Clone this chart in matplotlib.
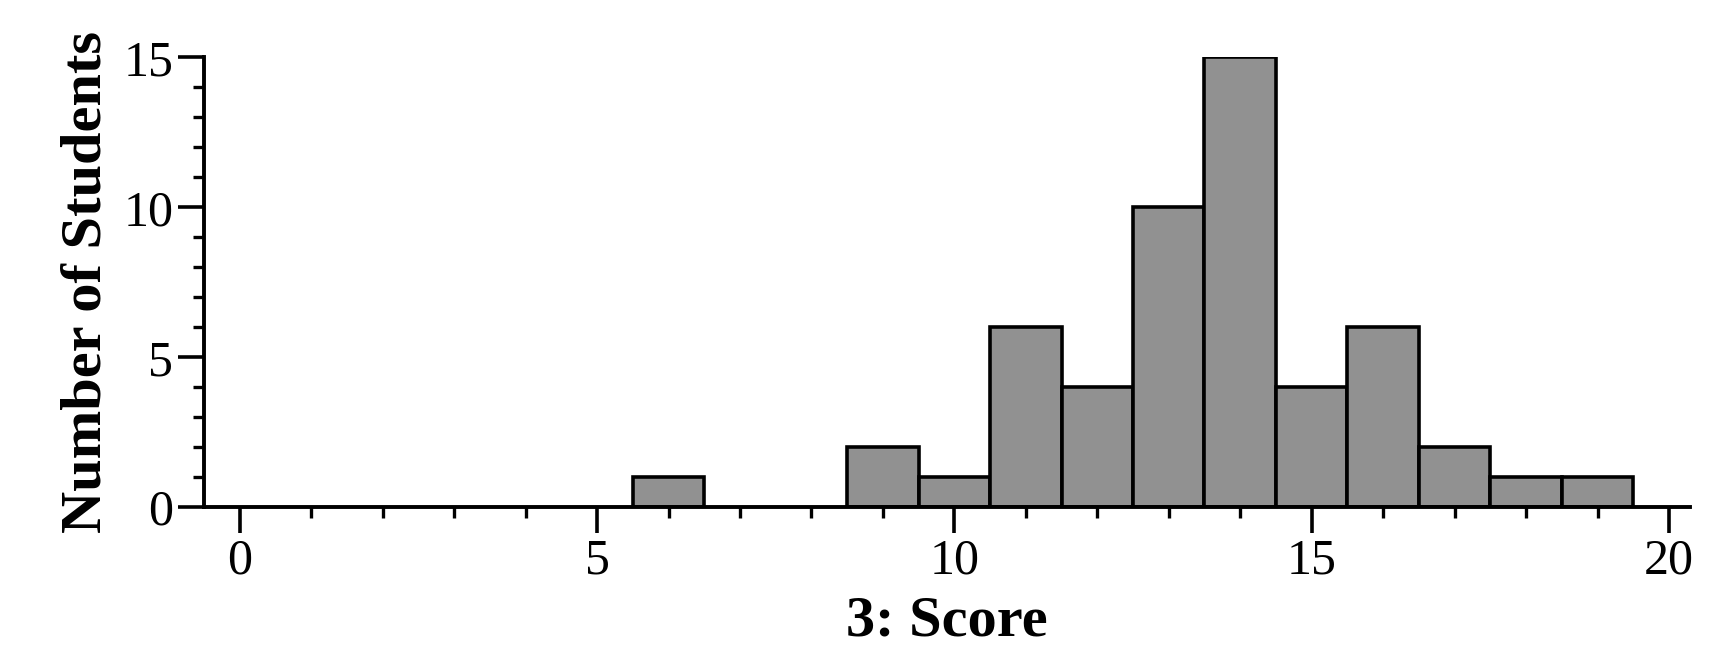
import matplotlib
matplotlib.use("Agg")
import matplotlib.pyplot as plt
from matplotlib.ticker import MultipleLocator

scores = [6, 9, 10, 11, 12, 13, 14, 15, 16, 17, 18, 19]
counts = [1, 2, 1, 6, 4, 10, 15, 4, 6, 2, 1, 1]

x_label = "3: Score"
y_label = "Number of Students"

plt.rcParams["font.family"] = ["Liberation Serif", "DejaVu Serif"]

fig = plt.figure(figsize=(17.32, 6.57), dpi=100)
ax = fig.add_axes([0.1178, 0.228, 0.976 - 0.1178, 0.9125 - 0.228])

ax.bar(scores, counts, width=1.0, color="#919191", edgecolor="black", linewidth=2.6, zorder=3)

ax.set_xlim(-0.5, 20.3)
ax.set_ylim(0, 15)
ax.xaxis.set_major_locator(MultipleLocator(5))
ax.xaxis.set_minor_locator(MultipleLocator(1))
ax.yaxis.set_major_locator(MultipleLocator(5))
ax.yaxis.set_minor_locator(MultipleLocator(1))

for side in ["top", "right"]:
    ax.spines[side].set_visible(False)
for side in ["left", "bottom"]:
    ax.spines[side].set_linewidth(2.8)
    ax.spines[side].set_zorder(4)

ax.tick_params(which="major", direction="out", length=19, width=2.6, labelsize=36, pad=3)
ax.tick_params(which="minor", direction="out", length=8, width=2.4)

ax.set_xlabel(x_label, fontsize=42, fontweight="bold", labelpad=8)
ax.set_ylabel(y_label, fontsize=42, fontweight="bold", labelpad=8)

fig.savefig("out.png", dpi=100)
